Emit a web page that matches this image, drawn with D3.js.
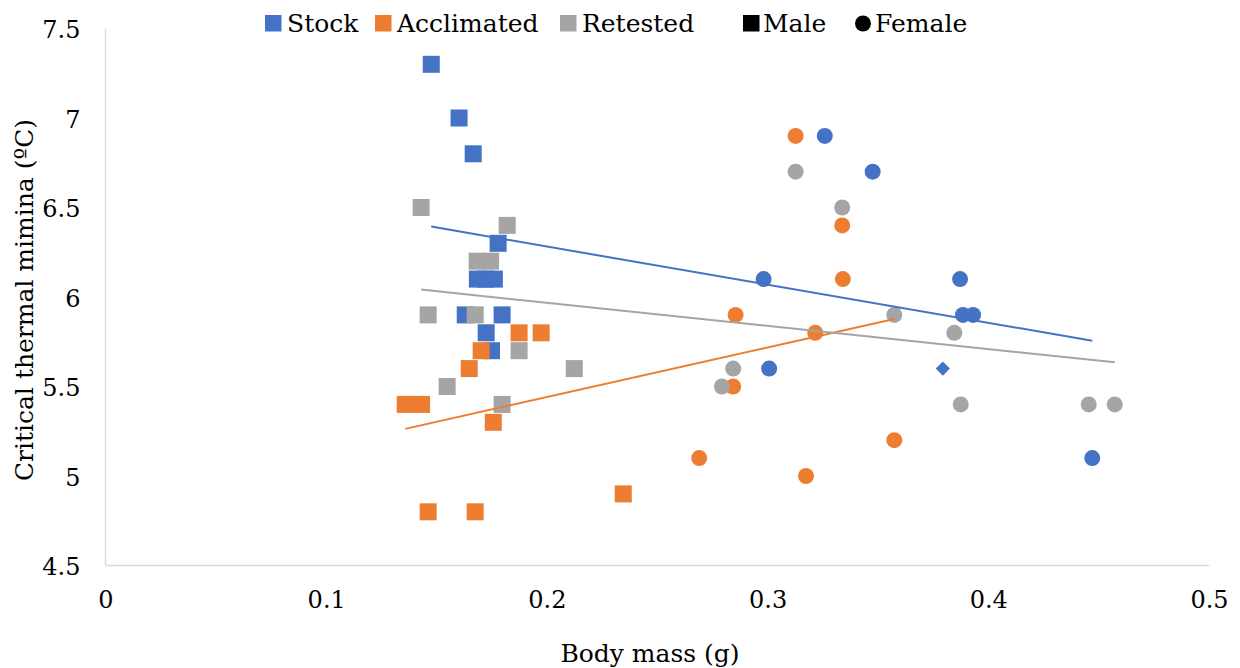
<!DOCTYPE html>
<html>
<head>
<meta charset="utf-8">
<script src="https://cdn.jsdelivr.net/npm/d3@7"></script>
<style>
  body { margin: 0; background: #fff; }
  svg { display: block; font-family: "DejaVu Serif", serif; }
</style>
</head>
<body>
<svg id="chart"></svg>
<script>
// data: [body mass (g), critical thermal minimum (ºC)]
var stockMale = [[0.1476, 7.3], [0.1602, 7.0], [0.1666, 6.8], [0.1779, 6.3], [0.1685, 6.1], [0.1722, 6.1],
  [0.1762, 6.1], [0.163, 5.9], [0.1797, 5.9], [0.1725, 5.8], [0.1749, 5.7]]
var stockFemale = [[0.3259, 6.9], [0.3476, 6.7], [0.2982, 6.1], [0.3872, 6.1], [0.3885, 5.9], [0.3931, 5.9],
  [0.3007, 5.6], [0.4471, 5.1]]
var stockOther = [[0.3794, 5.6]]
var acclMale = [[0.1874, 5.8], [0.1974, 5.8], [0.1702, 5.7], [0.1648, 5.6], [0.1358, 5.4], [0.1432, 5.4],
  [0.1757, 5.3], [0.2346, 4.9], [0.1462, 4.8], [0.1675, 4.8]]
var acclFemale = [[0.3127, 6.9], [0.3338, 6.4], [0.3341, 6.1], [0.2855, 5.9], [0.3216, 5.8], [0.2844, 5.5],
  [0.269, 5.1], [0.3174, 5.0], [0.3574, 5.2]]
var retMale = [[0.143, 6.5], [0.182, 6.4], [0.1684, 6.2], [0.1745, 6.2], [0.1462, 5.9], [0.1675, 5.9],
  [0.1874, 5.7], [0.2124, 5.6], [0.1548, 5.5], [0.1797, 5.4]]
var retFemale = [[0.3127, 6.7], [0.3338, 6.5], [0.3574, 5.9], [0.3846, 5.8], [0.2844, 5.6], [0.2793, 5.5],
  [0.3875, 5.4], [0.4455, 5.4], [0.4573, 5.4]]

// linear trend lines: [slope, intercept]
var stockTrend = [-2.130, 6.708]
var acclTrend = [2.771, 4.887]
var retTrend = [-1.292, 6.226]

var xTicks = [0, 0.1, 0.2, 0.3, 0.4, 0.5]
var yTicks = [4.5, 5, 5.5, 6, 6.5, 7, 7.5]
var legendNames = ["Stock", "Acclimated", "Retested", "Male", "Female"]

var width = 1240,
  height = 668

var svg = d3.select("#chart")
  .attr("width", width)
  .attr("height", height)

var x = d3.scaleLinear().domain([0, 0.5]).range([105.5, 1209])
var y = d3.scaleLinear().domain([4.5, 7.5]).range([565.5, 28.5])

var blue = "#4472C4",
  orange = "#ED7D31",
  grey = "#A5A5A5"

/*
 * Axes
 */

svg.append("line")
  .attr("x1", x(0)).attr("x2", x(0))
  .attr("y1", y(7.5)).attr("y2", y(4.5))
  .style("stroke", "#d9d9d9")
  .style("stroke-width", 1.3)

svg.append("line")
  .attr("x1", x(0)).attr("x2", x(0.5))
  .attr("y1", y(4.5)).attr("y2", y(4.5))
  .style("stroke", "#d9d9d9")
  .style("stroke-width", 1.3)

var xAxis = svg.append("g")
  .attr("transform", "translate(0," + y(4.5) + ")")
  .call(d3.axisBottom(x).tickValues(xTicks).tickSize(0).tickPadding(0).tickFormat(d3.format("")))
xAxis.select(".domain").remove()
xAxis.selectAll("text")
  .attr("y", 42)
  .attr("dy", 0)
  .style("font-family", "DejaVu Serif, serif")
  .style("font-size", "24px")
  .style("fill", "#000")

var yAxis = svg.append("g")
  .attr("transform", "translate(" + x(0) + ",0)")
  .call(d3.axisLeft(y).tickValues(yTicks).tickSize(0).tickPadding(0).tickFormat(d3.format("")))
yAxis.select(".domain").remove()
yAxis.selectAll("text")
  .attr("x", -25)
  .attr("dy", 9)
  .style("font-family", "DejaVu Serif, serif")
  .style("font-size", "24px")
  .style("fill", "#000")

svg.append("text")
  .attr("x", 650)
  .attr("y", 662)
  .attr("text-anchor", "middle")
  .style("font-size", "25px")
  .text("Body mass (g)")

svg.append("text")
  .attr("transform", "translate(33,300) rotate(-90)")
  .attr("text-anchor", "middle")
  .style("font-size", "25px")
  .text("Critical thermal mimina (ºC)")

/*
 * Points
 */

var sq = 17

function squares(data, color) {
  svg.append("g").selectAll("rect")
    .data(data)
    .enter()
    .append("rect")
    .attr("x", function (d) { return x(d[0]) - sq / 2 })
    .attr("y", function (d) { return y(d[1]) - sq / 2 })
    .attr("width", sq)
    .attr("height", sq)
    .style("fill", color)
}

function circles(data, color) {
  svg.append("g").selectAll("circle")
    .data(data)
    .enter()
    .append("circle")
    .attr("cx", function (d) { return x(d[0]) })
    .attr("cy", function (d) { return y(d[1]) })
    .attr("r", 8)
    .style("fill", color)
}

function diamonds(data, color) {
  svg.append("g").selectAll("path")
    .data(data)
    .enter()
    .append("path")
    .attr("d", d3.symbol().type(d3.symbolSquare).size(100))
    .attr("transform", function (d) { return "translate(" + x(d[0]) + "," + y(d[1]) + ") rotate(45)" })
    .style("fill", color)
}

squares(stockMale, blue)
circles(stockFemale, blue)
diamonds(stockOther, blue)
squares(acclMale, orange)
circles(acclFemale, orange)
squares(retMale, grey)
circles(retFemale, grey)

/*
 * Trend lines
 */

function trend(coef, pts, color) {
  var ext = d3.extent(pts, function (d) { return d[0] })
  svg.append("line")
    .attr("x1", x(ext[0]))
    .attr("y1", y(coef[0] * ext[0] + coef[1]))
    .attr("x2", x(ext[1]))
    .attr("y2", y(coef[0] * ext[1] + coef[1]))
    .style("stroke", color)
    .style("stroke-width", 2)
}

trend(stockTrend, stockMale.concat(stockFemale, stockOther), blue)
trend(acclTrend, acclMale.concat(acclFemale), orange)
trend(retTrend, retMale.concat(retFemale), grey)

/*
 * Legend
 */

var legendX = [265, 375, 560, 743, 855]
var legendColor = [blue, orange, grey, "#000", "#000"]
var legendGap = [22, 22, 22, 20, 20]

legendNames.forEach(function (name, i) {
  if (name === "Female") {
    svg.append("circle")
      .attr("cx", legendX[i] + 8)
      .attr("cy", 23.5)
      .attr("r", 8)
      .style("fill", legendColor[i])
  } else {
    svg.append("rect")
      .attr("x", legendX[i])
      .attr("y", 15)
      .attr("width", 16.5)
      .attr("height", 16.5)
      .style("fill", legendColor[i])
  }
  svg.append("text")
    .attr("x", legendX[i] + legendGap[i])
    .attr("y", 32)
    .style("font-size", "25px")
    .text(name)
})
</script>
</body>
</html>
